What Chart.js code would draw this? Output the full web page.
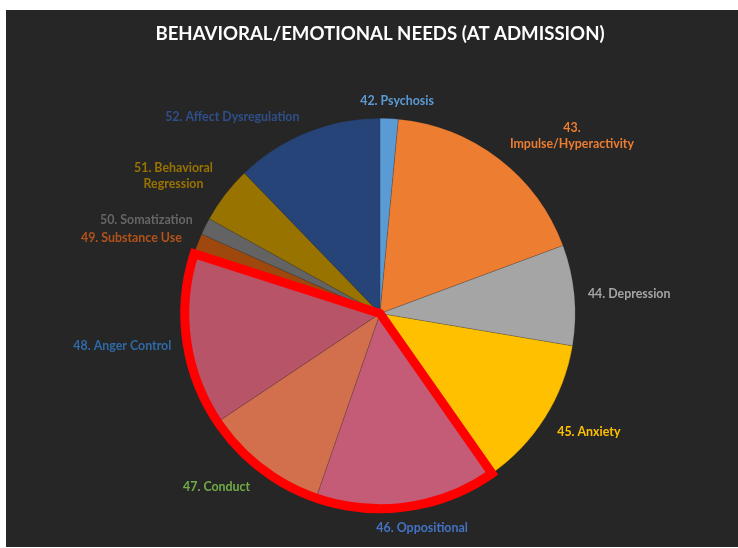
<!DOCTYPE html>
<html>
<head>
<meta charset="utf-8">
<script src="https://cdn.jsdelivr.net/npm/chart.js@4/dist/chart.umd.min.js"></script>
<style>
  html, body { margin: 0; padding: 0; background: #ffffff; }
  #wrap { position: absolute; left: 6px; top: 10px; width: 732px; height: 537px; background: #262626; }
  canvas { display: block; }
</style>
</head>
<body>
<div id="wrap"><canvas id="chart" width="732" height="537"></canvas></div>
<script>
// Share of clients per behavioral/emotional need at admission (%)
const categories = [
  "42. Psychosis",
  "43. Impulse/Hyperactivity",
  "44. Depression",
  "45. Anxiety",
  "46. Oppositional",
  "47. Conduct",
  "48. Anger Control",
  "49. Substance Use",
  "50. Somatization",
  "51. Behavioral Regression",
  "52. Affect Dysregulation"
];
const values = [1.5, 17.8, 8.3, 12.6, 15.0, 10.3, 14.3, 1.7, 1.4, 4.7, 12.2];
// Needs grouped inside the red outline
const highlighted = ["46. Oppositional", "47. Conduct", "48. Anger Control"];

// Label text as shown (line breaks where the label wraps)
const labelLines = [
  ["42. Psychosis"],
  ["43.", "Impulse/Hyperactivity"],
  ["44. Depression"],
  ["45. Anxiety"],
  ["46. Oppositional"],
  ["47. Conduct"],
  ["48. Anger Control"],
  ["49. Substance Use"],
  ["50. Somatization"],
  ["51. Behavioral", "Regression"],
  ["52. Affect Dysregulation"]
];

const sliceColors = ["#5b9bd5", "#ed7d31", "#a5a5a5", "#ffc000", "#c45b77", "#d2704d",
                     "#b75468", "#9e480e", "#636363", "#997300", "#264478"];
const labelColors = ["#5b9bd5", "#ed7d31", "#a5a5a5", "#ffc000", "#4472c4", "#70ad47",
                     "#2e6aa6", "#b3531a", "#666666", "#997300", "#2f4f8a"];
// Label placement: angle (deg, clockwise from 12 o'clock) and distance in radii
const labelPlace = [
  [4.6, 1.09], [47.2, 1.34], [85.6, 1.28], [119.6, 1.23], [168.9, 1.12], [223.3, 1.22],
  [262.9, 1.33], [286.8, 1.33], [291.9, 1.29], [303.6, 1.27], [323.1, 1.26]
];

const FONT = "Lato, 'Open Sans', sans-serif";

const outlinePlugin = {
  id: "groupOutline",
  afterDatasetsDraw(chart) {
    const meta = chart.getDatasetMeta(0);
    const idx = highlighted.map(h => categories.indexOf(h));
    const first = meta.data[Math.min(...idx)];
    const last = meta.data[Math.max(...idx)];
    const ctx = chart.ctx;
    ctx.save();
    ctx.beginPath();
    ctx.moveTo(first.x, first.y);
    ctx.arc(first.x, first.y, first.outerRadius, first.startAngle, last.endAngle);
    ctx.closePath();
    ctx.lineWidth = 9;
    ctx.lineJoin = "miter";
    ctx.strokeStyle = "#ff0000";
    ctx.stroke();
    ctx.restore();
  }
};

const labelPlugin = {
  id: "sliceLabels",
  afterDraw(chart) {
    const meta = chart.getDatasetMeta(0);
    const arc0 = meta.data[0];
    const cx = arc0.x, cy = arc0.y, r = arc0.outerRadius;
    const ctx = chart.ctx;
    ctx.save();
    ctx.font = "bold 12.4px " + FONT;
    ctx.textAlign = "center";
    ctx.textBaseline = "middle";
    labelLines.forEach((lines, i) => {
      const [deg, f] = labelPlace[i];
      const a = deg * Math.PI / 180;
      const x = cx + Math.sin(a) * r * f;
      const y = cy - Math.cos(a) * r * f;
      const lh = 16;
      ctx.fillStyle = labelColors[i];
      lines.forEach((t, k) => {
        ctx.fillText(t, x, y + (k - (lines.length - 1) / 2) * lh);
      });
    });
    ctx.restore();
  }
};

new Chart(document.getElementById("chart"), {
  type: "pie",
  data: {
    labels: categories,
    datasets: [{
      data: values,
      backgroundColor: sliceColors,
      borderColor: "rgba(38,38,38,0.4)",
      borderWidth: 0.5
    }]
  },
  options: {
    responsive: false,
    animation: false,
    events: [],
    layout: { padding: { left: 16, right: 0, top: 0, bottom: 38 } },
    plugins: {
      legend: { display: false },
      tooltip: { enabled: false },
      title: {
        display: true,
        text: "BEHAVIORAL/EMOTIONAL NEEDS (AT ADMISSION)",
        color: "#ffffff",
        font: { family: FONT, size: 18.6, weight: "bold" },
        padding: { top: 12.5, bottom: 73.2 }
      }
    }
  },
  plugins: [outlinePlugin, labelPlugin]
});
</script>
</body>
</html>
